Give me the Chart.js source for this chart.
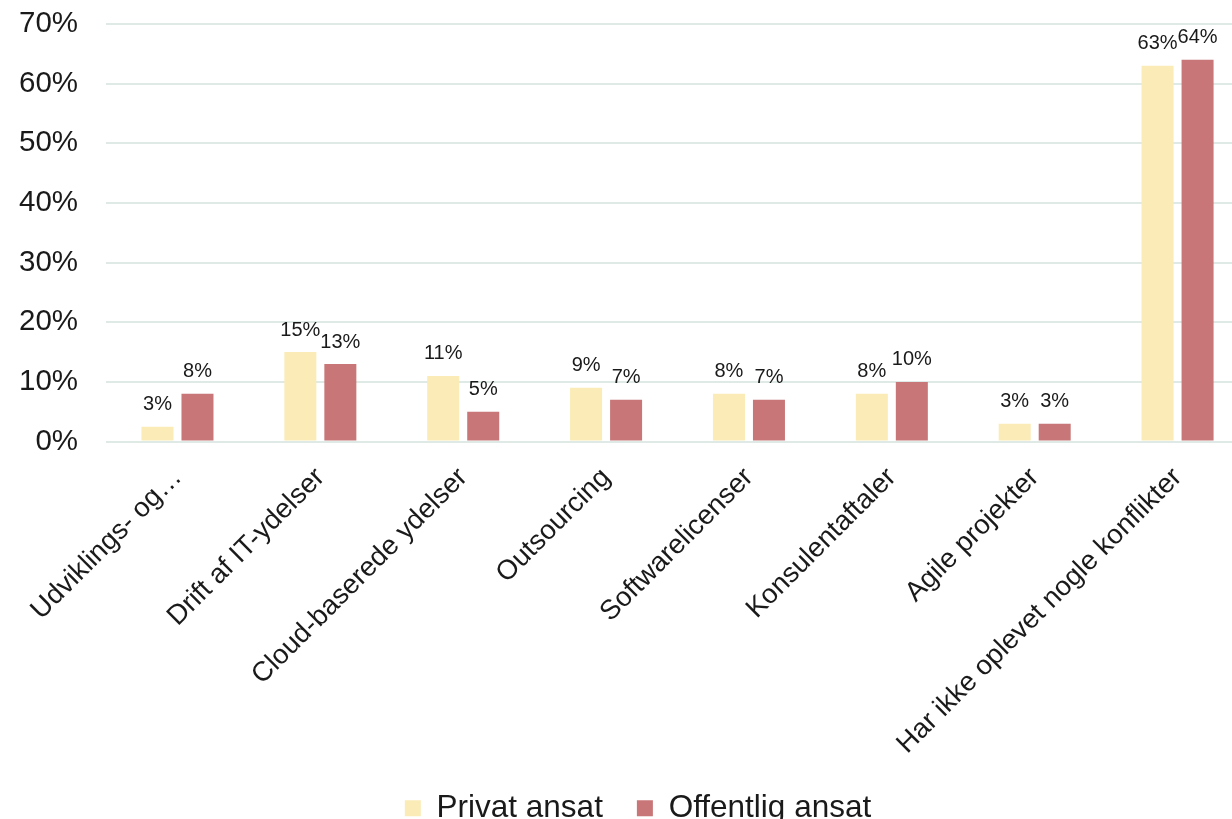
<!DOCTYPE html>
<html>
<head>
<meta charset="utf-8">
<script src="https://cdn.jsdelivr.net/npm/chart.js@4"></script>
<style>
  html, body { margin: 0; padding: 0; background: #fff; overflow: hidden; }
  #wrap { width: 1276px; height: 834px; position: relative; }
</style>
</head>
<body>
<div id="wrap"><canvas id="chart"></canvas></div>
<script>
// categories and values (percent)
const categories = [
  'Udviklings- og…',
  'Drift af IT-ydelser',
  'Cloud-baserede ydelser',
  'Outsourcing',
  'Softwarelicenser',
  'Konsulentaftaler',
  'Agile projekter',
  'Har ikke oplevet nogle konflikter'
];
const privatAnsat = [2.5, 15, 11, 9, 8, 8, 3, 63];
const offentligAnsat = [8, 13, 5, 7, 7, 10, 3, 64];
const yTicks = [0, 10, 20, 30, 40, 50, 60, 70];

const fontFamily = '"Liberation Sans", Arial, sans-serif';

// simple value labels above each bar
const valueLabels = {
  id: 'valueLabels',
  afterDatasetsDraw(chart) {
    const ctx = chart.ctx;
    ctx.save();
    ctx.font = '20px ' + fontFamily;
    ctx.fillStyle = '#1a1a1a';
    ctx.textAlign = 'center';
    ctx.textBaseline = 'middle';
    chart.data.datasets.forEach((ds, i) => {
      chart.getDatasetMeta(i).data.forEach((bar, j) => {
        ctx.fillText(Math.round(ds.data[j]) + '%', bar.x, bar.y - 22);
      });
    });
    ctx.restore();
  }
};

// nudge the legend a bit to the right, like the original
const legendShift = {
  id: 'legendShift',
  afterLayout(chart) {
    chart.legend.left += 18;
    chart.legend.right += 18;
  }
};

new Chart(document.getElementById('chart').getContext('2d'), {
  type: 'bar',
  data: {
    labels: categories,
    datasets: [
      {
        label: 'Privat ansat',
        data: privatAnsat,
        backgroundColor: '#FBEBB6',
        categoryPercentage: 0.56,
        barPercentage: 0.8
      },
      {
        label: 'Offentlig ansat',
        data: offentligAnsat,
        backgroundColor: '#C87677',
        categoryPercentage: 0.56,
        barPercentage: 0.8
      }
    ]
  },
  options: {
    responsive: true,
    maintainAspectRatio: false,
    animation: false,
    layout: { padding: { left: -9, right: 27, top: 24, bottom: 0 } },
    plugins: {
      tooltip: { enabled: false },
      legend: {
        position: 'bottom',
        labels: {
          boxWidth: 16,
          boxHeight: 16,
          padding: 34,
          color: '#1a1a1a',
          font: { size: 31.5, family: fontFamily }
        }
      }
    },
    scales: {
      x: {
        afterFit: axis => { axis.height -= 14; },
        grid: { display: false },
        border: { display: false },
        ticks: {
          autoSkip: false,
          maxRotation: 45,
          minRotation: 45,
          padding: 12,
          color: '#1a1a1a',
          font: { size: 27.5, family: fontFamily }
        }
      },
      y: {
        min: 0,
        max: 70,
        afterBuildTicks: axis => { axis.ticks = yTicks.map(v => ({ value: v })); },
        afterFit: axis => { axis.paddingTop = 0; axis.paddingBottom = 0; },
        grid: { color: '#DFEAE6', lineWidth: 2, drawTicks: false },
        border: { display: false },
        ticks: {
          padding: 28,
          color: '#1a1a1a',
          font: { size: 29.5, family: fontFamily },
          callback: v => v + '%'
        }
      }
    }
  },
  plugins: [valueLabels, legendShift]
});
</script>
</body>
</html>
